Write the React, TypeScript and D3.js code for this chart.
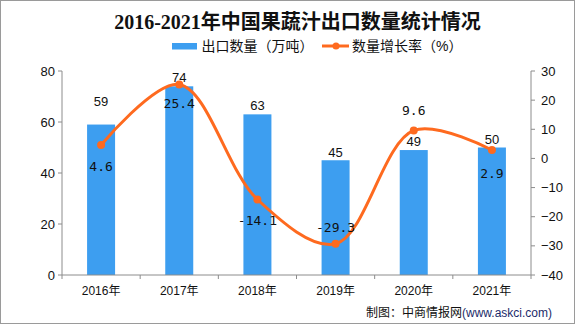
import React from "react";
import * as d3 from "d3";

const years = ["2016年", "2017年", "2018年", "2019年", "2020年", "2021年"];
const exportVolume = [59, 74, 63, 45, 49, 50];
const growthRate = [4.6, 25.4, -14.1, -29.3, 9.6, 2.9];
const leftTicks = [0, 20, 40, 60, 80];
const rightTicks = [-40, -30, -20, -10, 0, 10, 20, 30];

const W = 575;
const H = 326;
const M = { left: 62, right: 44, top: 71, bottom: 51 };
const BLUE = "#3d9ef0";
const ORANGE = "#fe6a1f";
const AXIS = "#8c8c8c";
const CJK = "'Liberation Sans', 'Noto Sans CJK SC', sans-serif";
const NUM = "'DejaVu Sans Mono', 'Liberation Mono', monospace";
const SANS = "'Liberation Sans', Arial, sans-serif";

export default function App() {
  const x0 = M.left;
  const x1 = W - M.right;
  const y0 = H - M.bottom;
  const y1 = M.top;
  const xb = d3.scaleBand<string>().domain(years).range([x0, x1]);
  const yL = d3.scaleLinear().domain([0, 80]).range([y0, y1]);
  const yR = d3.scaleLinear().domain([-40, 30]).range([y0, y1]);
  const cx = (d: string) => (xb(d) as number) + xb.bandwidth() / 2;
  const pts: [number, number][] = years.map((d, i) => [cx(d), yR(growthRate[i])]);
  const line = d3.line().curve(d3.curveCatmullRom.alpha(0.5))(pts) as string;
  const bw = 28;
  const barLabelOffset = [19, 4, 4, 3, 4, 4];
  const rateOffset = [26, 24, 25, -12, -15, 28];

  return (
    <svg width={W} height={H} style={{ position: "absolute", left: 0, top: 0, background: "#fff" }}>
      <rect x={0.5} y={0.5} width={W - 1} height={H - 3} fill="#fff" stroke="#9a9a9a" />
      <text x={297.5} y={28.5} textAnchor="middle" fontSize={20} fontWeight="bold"
        fontFamily="'Liberation Serif', 'Noto Sans CJK SC', serif" fill="#111">
        2016-2021年中国果蔬汁出口数量统计情况
      </text>
      {/* legend */}
      <rect x={172} y={43} width={25} height={6.5} fill={BLUE} />
      <text x={201.5} y={51} fontSize={14} fontFamily={CJK} fill="#111">出口数量（万吨）</text>
      <line x1={322} x2={349} y1={46} y2={46} stroke={ORANGE} strokeWidth={3} />
      <circle cx={336} cy={46} r={3.5} fill={ORANGE} />
      <text x={352} y={51} fontSize={14} fontFamily={CJK} fill="#111">数量增长率（%）</text>

      {/* bars */}
      {years.map((d, i) => (
        <rect key={d} x={cx(d) - bw / 2} y={yL(exportVolume[i])} width={bw}
          height={y0 - yL(exportVolume[i])} fill={BLUE} />
      ))}

      {/* axes */}
      <line x1={x0} x2={x0} y1={y1} y2={y0} stroke={AXIS} />
      <line x1={x1} x2={x1} y1={y1} y2={y0} stroke={AXIS} />
      <line x1={x0} x2={x1} y1={y0} y2={y0} stroke={AXIS} />
      {leftTicks.map((t) => (
        <g key={t}>
          <line x1={x0 - 4} x2={x0} y1={yL(t)} y2={yL(t)} stroke={AXIS} />
          <text x={x0 - 7} y={yL(t) + 4.5} textAnchor="end" fontSize={13}
            fontFamily={SANS} fill="#111">{t}</text>
        </g>
      ))}
      {rightTicks.map((t) => (
        <g key={t}>
          <line x1={x1} x2={x1 + 4} y1={yR(t)} y2={yR(t)} stroke={AXIS} />
          <text x={x1 + 10} y={yR(t) + 4.5} textAnchor="start" fontSize={13}
            fontFamily={SANS} fill="#111">{t < 0 ? "\u2212" + Math.abs(t) : t}</text>
        </g>
      ))}
      {years.map((d) => (
        <line key={"tk" + d} x1={(xb(d) as number)} x2={(xb(d) as number)} y1={y0} y2={y0 + 4} stroke={AXIS} />
      ))}
      <line x1={x1} x2={x1} y1={y0} y2={y0 + 4} stroke={AXIS} />
      {years.map((d) => (
        <text key={"xl" + d} x={cx(d)} y={y0 + 20} textAnchor="middle" fontSize={12}
          fontFamily={CJK} fill="#111">{d}</text>
      ))}

      {/* bar labels */}
      {years.map((d, i) => (
        <text key={"bl" + d} x={cx(d)} y={yL(exportVolume[i]) - barLabelOffset[i]} textAnchor="middle"
          fontSize={13} fontFamily={SANS} fill="#111">{exportVolume[i]}</text>
      ))}

      {/* line */}
      <path d={line} fill="none" stroke={ORANGE} strokeWidth={3} />
      {pts.map((p, i) => (
        <circle key={"pt" + i} cx={p[0]} cy={p[1]} r={4} fill={ORANGE} />
      ))}
      {pts.map((p, i) => (
        <text key={"rl" + i} x={p[0]} y={p[1] + rateOffset[i]} textAnchor="middle"
          fontSize={13} fontFamily={NUM} fill="#111">{growthRate[i]}</text>
      ))}

      <text x={552} y={317} textAnchor="end" fontSize={12} fontFamily={CJK} fill="#111">
        制图：中商情报网<tspan fill="#1c2b6a">(www.askci.com)</tspan>
      </text>
    </svg>
  );
}
